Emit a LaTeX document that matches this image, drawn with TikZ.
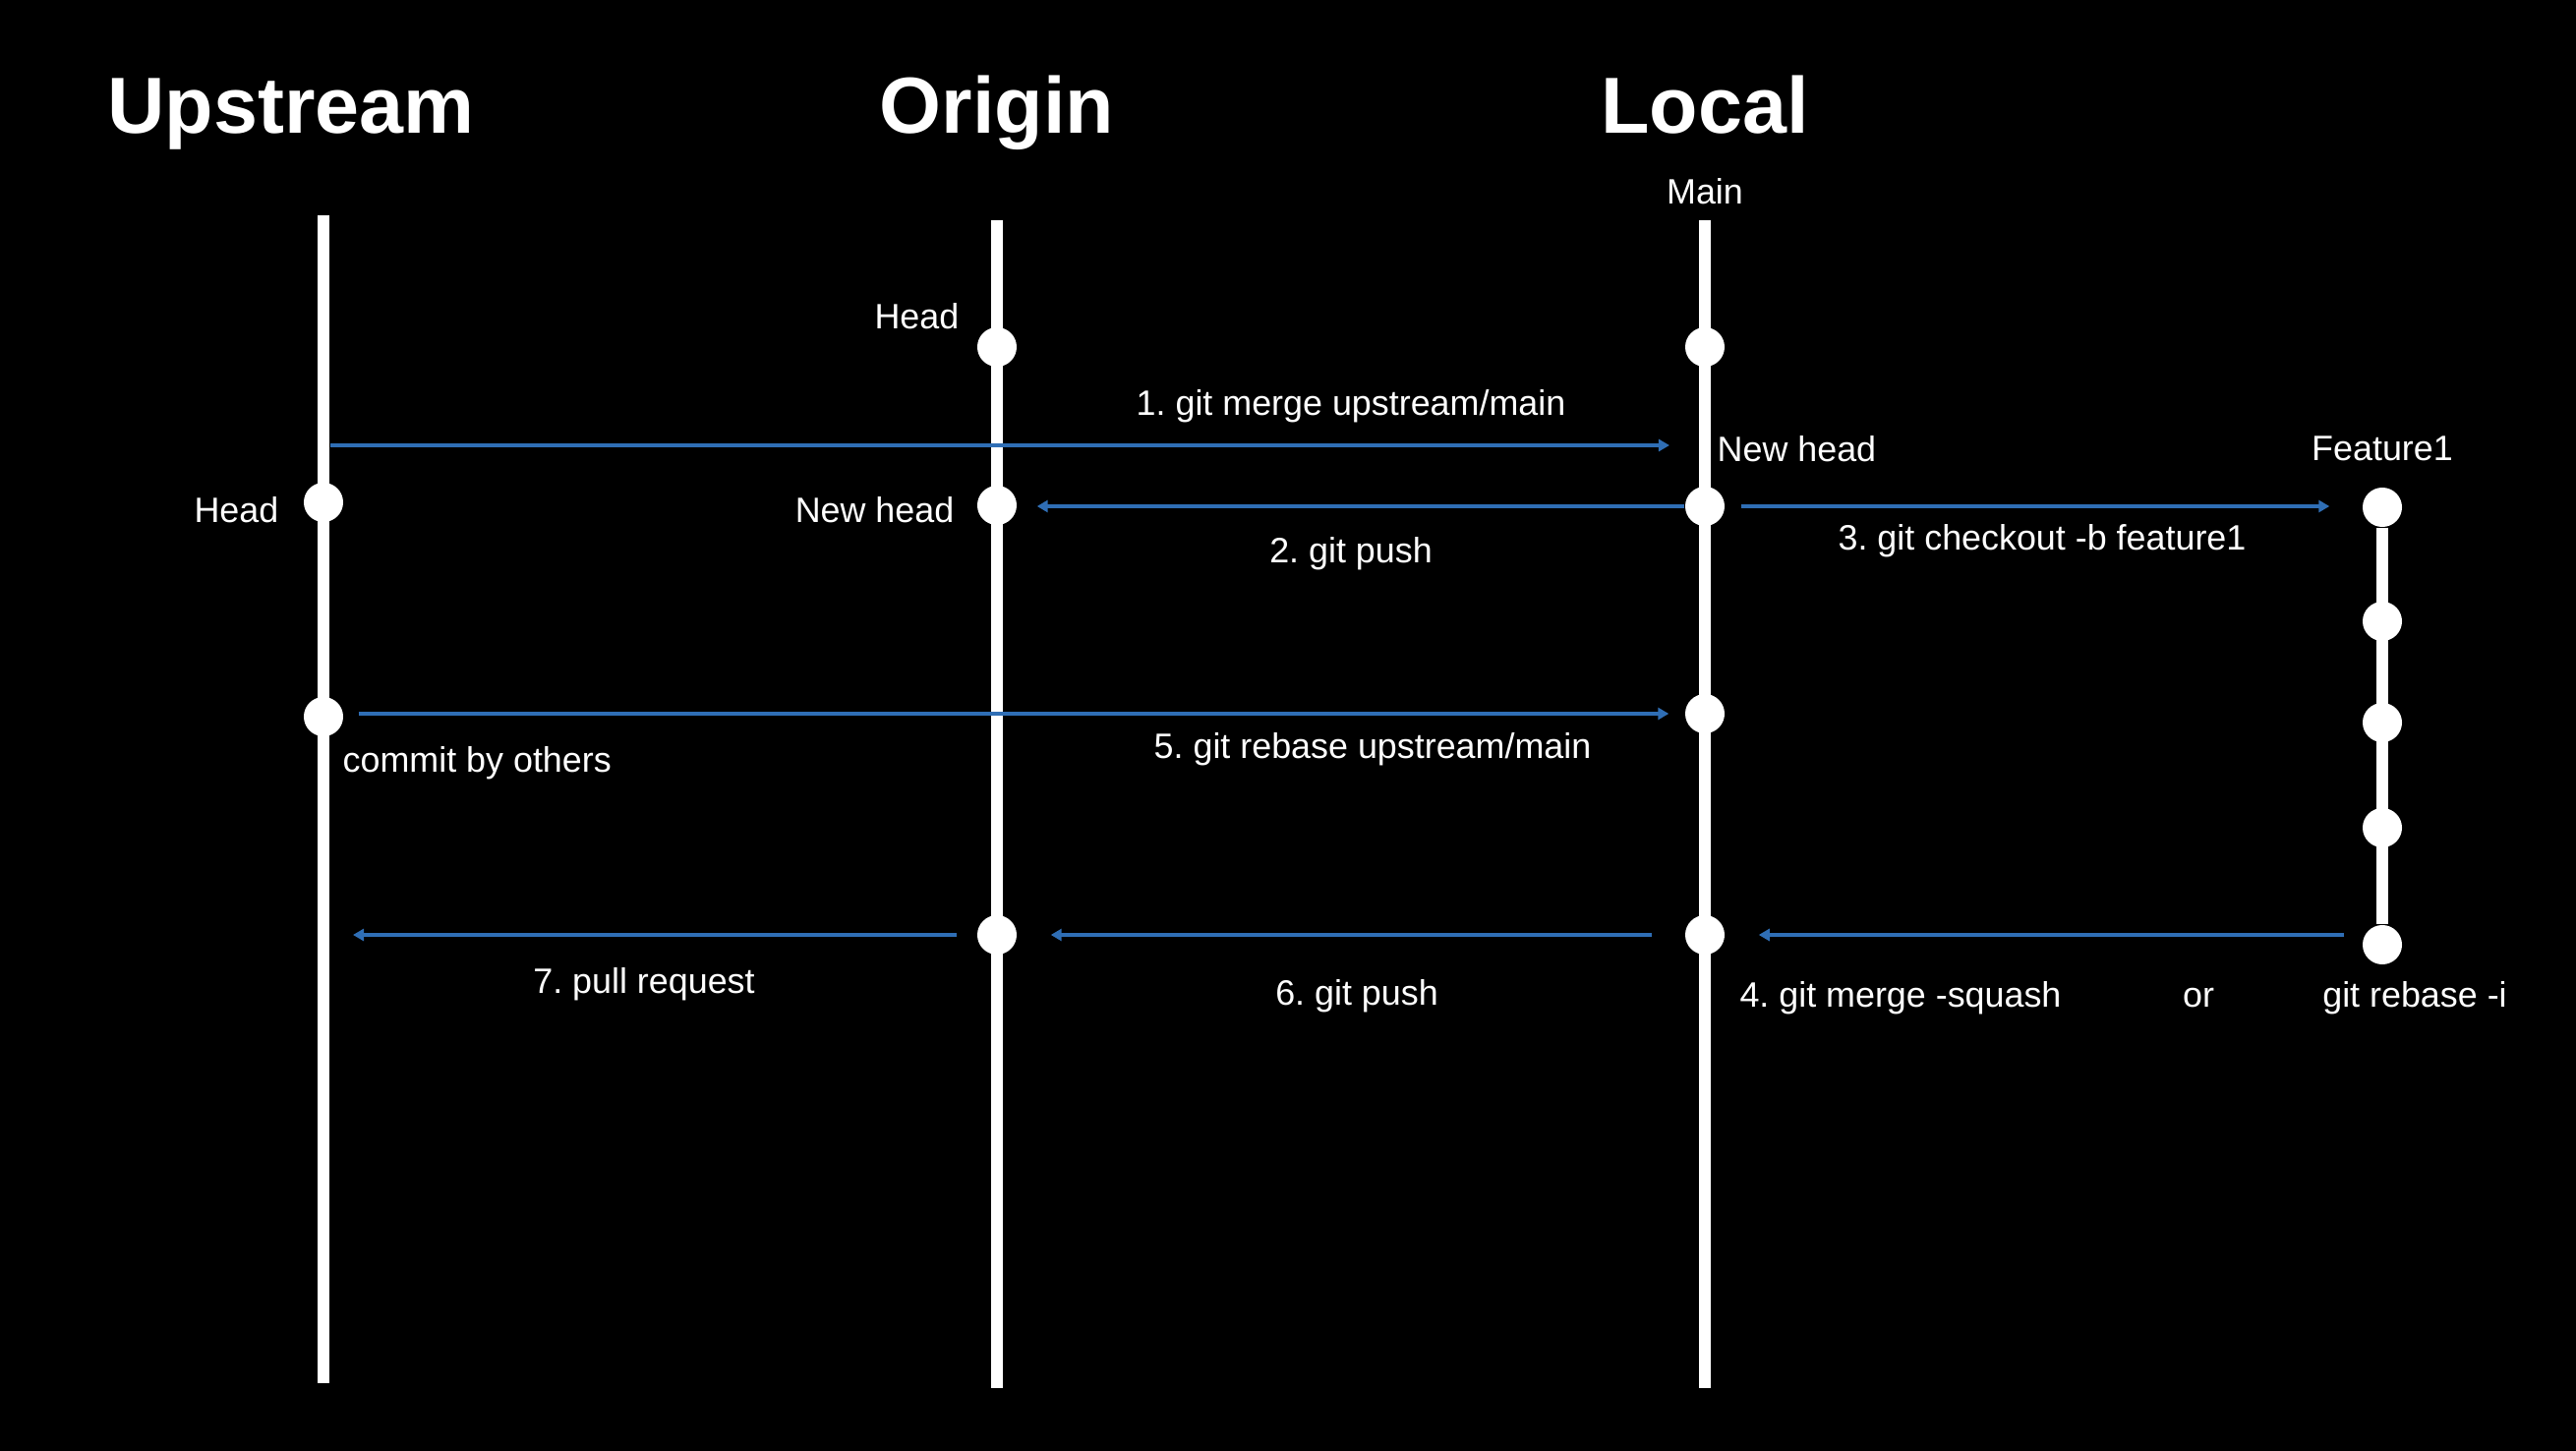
\documentclass[tikz,border=0pt]{standalone}
\usepackage{fontspec}
\setmainfont{Liberation Sans}
\usetikzlibrary{arrows.meta,positioning}
\definecolor{arrowblue}{RGB}{47,110,181}
\frenchspacing

\begin{document}
\begin{tikzpicture}
	[x=0.01cm,y=-0.01cm,
	branch/.style={draw=white,line width=0.12cm},
	commit/.style={circle,fill=white,inner sep=0pt,minimum size=0.4cm},
	flow/.style={draw=arrowblue,line width=0.9pt,-{Triangle[length=1.1mm,width=1.2mm]}},
	title/.style={text=white,anchor=base,font=\bfseries\fontsize{23}{28}\selectfont},
	lbl/.style={text=white,font=\fontsize{10.2}{12}\selectfont,inner sep=0pt,yshift=-0.025cm}]
	\fill[black] (0,0) rectangle (2620,1476);

	% branch lines
	\coordinate (ut) at (329,219);
	\coordinate (ub) at (329,1407);
	\coordinate (ot) at (1014,224);
	\coordinate (ob) at (1014,1412);
	\coordinate (lt) at (1734,224);
	\coordinate (lb) at (1734,1412);
	\foreach \from/\to in {ut/ub,ot/ob,lt/lb}
		\draw[branch] (\from) -- (\to);

	% commits
	\node[commit] (u1) at (329,511) {};
	\node[commit] (u2) at (329,729) {};
	\node[commit] (o1) at (1014,353) {};
	\node[commit] (o2) at (1014,514) {};
	\node[commit] (o3) at (1014,951) {};
	\node[commit] (l1) at (1734,353) {};
	\node[commit] (l2) at (1734,515) {};
	\node[commit] (l3) at (1734,726) {};
	\node[commit] (l4) at (1734,951) {};
	\node[commit] (f1) at (2423,516) {};
	\node[commit] (f2) at (2423,632) {};
	\node[commit] (f3) at (2423,735) {};
	\node[commit] (f4) at (2423,842) {};
	\node[commit] (f5) at (2423,961) {};
	\draw[branch] (f1) -- (f5);

	% titles
	\node[title] (upstream) at (296,136) {Upstream};
	\node[title] (origin) at (1014,136) {Origin};
	\node[title] (local) at (1734,136) {Local};

	% labels
	\node[lbl] (main) at (1734,192) {Main};
	\node[lbl,anchor=east] (ohead) at (976,319) {Head};
	\node[lbl,anchor=east] (uhead) at (284,516) {Head};
	\node[lbl,anchor=east] (onew) at (971,516) {New head};
	\node[lbl,anchor=west] (lnew) at (1746,454) {New head};
	\node[lbl] (feat) at (2423,454) {Feature1};
	\node[lbl,anchor=west] (others) at (348,774) {commit by others};
	\node[lbl] (t1) at (1374,411) {1. git merge upstream/main};
	\node[lbl] (t2) at (1374,561) {2. git push};
	\node[lbl] (t3) at (2077,548) {3. git checkout -b feature1};
	\node[lbl] (t5) at (1396,760) {5. git rebase upstream/main};
	\node[lbl] (t7) at (655,999) {7. pull request};
	\node[lbl] (t6) at (1380,1011) {6. git push};
	\node[lbl] (t4) at (1933,1013) {4. git merge -squash};
	\node[lbl] (tor) at (2236,1013) {or};
	\node[lbl] (t4b) at (2456,1013) {git rebase -i};

	% arrows
	\coordinate (m1s) at (329,453);
	\coordinate (m1e) at (1734,453);
	\coordinate (pr) at (329,951);
	\draw[flow,shorten <=0.07cm,shorten >=0.36cm] (m1s) -- (m1e);
	\draw[flow,shorten >=0.2cm] (l2.west) -- (o2.east |- l2);
	\draw[flow,shorten <=0.16cm,shorten >=0.33cm] (l2.east) -- (f1.west |- l2);
	\draw[flow,shorten <=0.15cm,shorten >=0.16cm] (u2.east |- l3) -- (l3.west);
	\draw[flow,shorten <=0.18cm,shorten >=0.34cm] (f5.west |- l4) -- (l4.east);
	\draw[flow,shorten <=0.33cm,shorten >=0.34cm] (l4.west) -- (o3.east);
	\draw[flow,shorten <=0.2cm,shorten >=0.3cm] (o3.west) -- (pr);
\end{tikzpicture}
\end{document}
